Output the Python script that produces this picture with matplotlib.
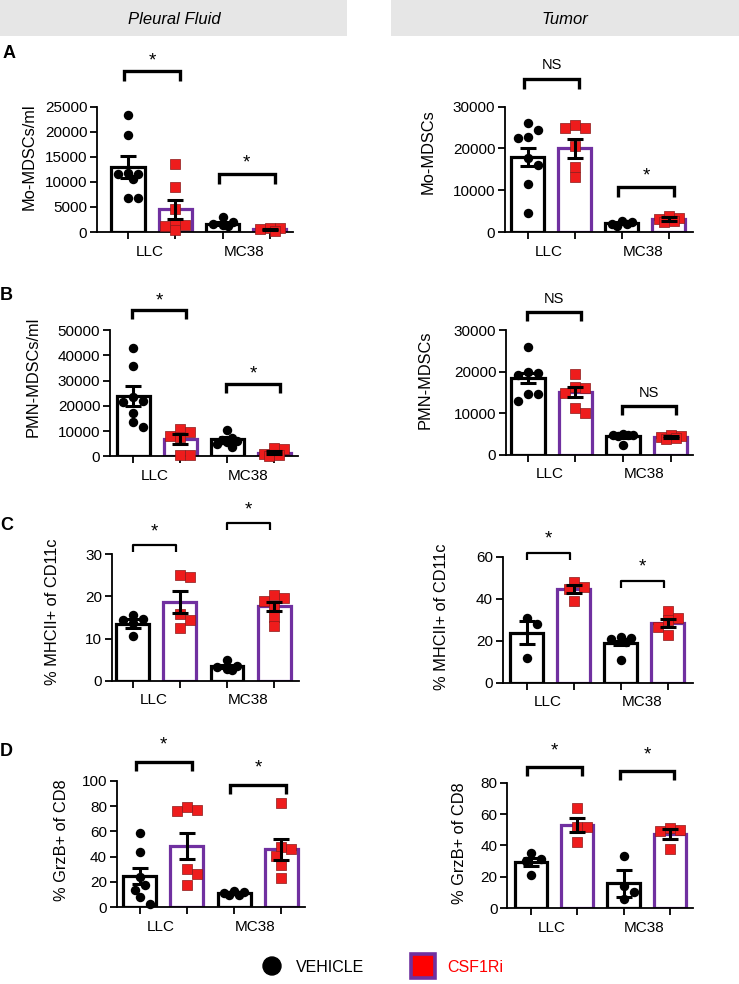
import numpy as np
import matplotlib
matplotlib.use('Agg')
import matplotlib.pyplot as plt
from matplotlib.patches import Rectangle, Circle

plt.rcParams['font.family'] = ['Liberation Sans', 'DejaVu Sans']

# ---------------- data ----------------
groups = ['LLC', 'MC38']
treatments = ['VEHICLE', 'CSF1Ri']
headers = ['Pleural Fluid', 'Tumor']
panel_letters = ['A', 'B', 'C', 'D']

# order inside each panel: LLC-vehicle, LLC-CSF1Ri, MC38-vehicle, MC38-CSF1Ri
a_pf_mean = [13000, 4500, 1650, 530]
a_pf_sem = [2200, 1900, 300, 150]
a_pf_pts = [[23400, 19400, 11700, 11500, 11500, 10500, 6700, 6700],
            [13600, 9000, 4600, 1800, 1400, 1200, 300],
            [2900, 1900, 1500, 1300, 1200],
            [800, 700, 500, 200]]
a_pf_br = [(32100, '*'), (11600, '*')]

a_tu_mean = [18000, 20000, 2200, 3100]
a_tu_sem = [2200, 2200, 250, 400]
a_tu_pts = [[26000, 24400, 22700, 22400, 17600, 16000, 11600, 4500],
            [25600, 25000, 25000, 20700, 15500, 13200],
            [2600, 2300, 2000, 1800, 1500],
            [3800, 3400, 3100, 2700, 2500]]
a_tu_br = [(36600, 'NS'), (10800, '*')]

b_pf_mean = [24000, 6900, 6700, 1450]
b_pf_sem = [3900, 2000, 800, 500]
b_pf_pts = [[42900, 35800, 23500, 22000, 21300, 17300, 13700, 11500],
            [10700, 9800, 8000, 7500, 700, 500],
            [10400, 7200, 6500, 6200, 5800, 4800, 3500],
            [3100, 2900, 1000, 600, 300]]
b_pf_br = [(57800, '*'), (28700, '*')]

b_tu_mean = [18400, 15100, 4550, 4400]
b_tu_sem = [1200, 1150, 350, 250]
b_tu_pts = [[26000, 20000, 19800, 19200, 14600, 14600, 13000],
            [19400, 16400, 16200, 15000, 11400, 10200],
            [5000, 4900, 4800, 4700, 4600, 2400],
            [4800, 4600, 4400, 4000, 3800]]
b_tu_br = [(34400, 'NS'), (11800, 'NS')]

c_pf_mean = [13.5, 18.6, 3.4, 17.7]
c_pf_sem = [1.1, 2.65, 0.3, 1.05]
c_pf_pts = [[15.5, 14.6, 14.3, 13.8, 10.6],
            [25.0, 24.6, 15.8, 14.4, 12.5],
            [4.8, 3.5, 3.2, 2.8, 2.6],
            [20.3, 19.7, 19.0, 17.5, 15.1, 12.9]]
c_pf_br = [(32.1, '*'), (37.35, '*')]

c_tu_mean = [23.8, 44.5, 19.0, 28.6]
c_tu_sem = [5.5, 2.0, 0.9, 1.9]
c_tu_pts = [[30.7, 28.0, 12.0],
            [48.1, 45.7, 44.5, 38.9],
            [21.8, 21.2, 20.6, 19.5, 11.0],
            [34.3, 30.9, 29.8, 26.7, 22.9]]
c_tu_br = [(61.9, '*'), (48.6, '*')]

d_pf_mean = [24.5, 48.7, 11.2, 45.8]
d_pf_sem = [6.3, 10.3, 0.8, 8.4]
d_pf_pts = [[59, 44, 24, 18, 14, 8, 3],
            [79, 77, 76, 30, 26, 18],
            [13, 12, 11, 10, 10],
            [82.7, 47.4, 45.8, 40.6, 33.4, 22.9]]
d_pf_br = [(115.1, '*'), (96.7, '*')]

d_tu_mean = [29.5, 53.0, 15.7, 47.2]
d_tu_sem = [2.5, 4.7, 8.6, 3.2]
d_tu_pts = [[35, 31, 30, 21],
            [64, 51.9, 51.9, 42.3],
            [33.4, 14, 10, 5.5],
            [50.9, 50, 49.3, 37.5]]
d_tu_br = [(89.8, '*'), (87.4, '*')]

# ---------------- style ----------------
W, H = 739, 984
PURPLE = '#7030A0'
RED = '#EE1C1C'
FS = 11

fig = plt.figure(figsize=(W / 100, H / 100), dpi=100)

# overlay in pixel coordinates for headers / legend / letters
ov = fig.add_axes([0, 0, 1, 1])
ov.set_xlim(0, W)
ov.set_ylim(H, 0)
ov.axis('off')
ov.patch.set_visible(False)

ov.add_patch(Rectangle((0, 0), 347, 36, facecolor='#E6E6E6', edgecolor='none'))
ov.add_patch(Rectangle((391, 0), 348, 36, facecolor='#E6E6E6', edgecolor='none'))
ov.text(174, 19, headers[0], ha='center', va='center', fontsize=12, style='italic')
ov.text(565, 19, headers[1], ha='center', va='center', fontsize=12, style='italic')

for letter, (lx, ly) in zip(panel_letters, [(3, 54), (0, 296), (0, 525), (0, 752)]):
    ov.text(lx, ly, letter, ha='left', va='center', fontsize=13, fontweight='bold')

# legend
ov.add_patch(Circle((272, 966), 9, facecolor='black', edgecolor='black'))
ov.text(296, 967, treatments[0], ha='left', va='center', fontsize=11.5)
ov.add_patch(Rectangle((410.5, 953.5), 24, 24, facecolor='#FF0000', edgecolor=PURPLE, lw=2.6))
ov.text(447, 967, treatments[1], ha='left', va='center', fontsize=11.5, color='#FF0000')

row_style = {
    'A': dict(dl=-0.08, dr=1.1, lw=2.4, leg=10, toff=6),
    'B': dict(dl=-0.02, dr=1.12, lw=2.4, leg=9, toff=5),
    'C': dict(dl=0.0, dr=0.92, lw=1.6, leg=7, toff=9),
    'D': dict(dl=-0.08, dr=1.1, lw=2.4, leg=9, toff=12),
}

panels = [
    dict(m=a_pf_mean, s=a_pf_sem, p=a_pf_pts, br=a_pf_br, box=(97, 293, 232, 106.7), xlim=(-0.655, 3.49),
         ymax=25000, ystep=5000, ylabel='Mo-MDSCs/ml', lab=(29, 157), row='A'),
    dict(m=a_tu_mean, s=a_tu_sem, p=a_tu_pts, br=a_tu_br, box=(505, 693, 232, 106.7), xlim=(-0.48, 3.51),
         ymax=30000, ystep=10000, ylabel='Mo-MDSCs', lab=(428, 152), row='A'),
    dict(m=b_pf_mean, s=b_pf_sem, p=b_pf_pts, br=b_pf_br, box=(110, 298, 456.3, 330), xlim=(-0.49, 3.5),
         ymax=50000, ystep=10000, ylabel='PMN-MDSCs/ml', lab=(33, 377), row='B'),
    dict(m=b_tu_mean, s=b_tu_sem, p=b_tu_pts, br=b_tu_br, box=(506, 693, 455, 330), xlim=(-0.46, 3.47),
         ymax=30000, ystep=10000, ylabel='PMN-MDSCs', lab=(425, 380), row='B'),
    dict(m=c_pf_mean, s=c_pf_sem, p=c_pf_pts, br=c_pf_br, box=(111.7, 299, 680.7, 554.3), xlim=(-0.45, 3.53),
         ymax=30, ystep=10, ylabel='% MHCII+ of CD11c', lab=(53, 612), row='C'),
    dict(m=c_tu_mean, s=c_tu_sem, p=c_tu_pts, br=c_tu_br, box=(502.7, 692.7, 682.7, 556.7), xlim=(-0.51, 3.53),
         ymax=60, ystep=20, ylabel='% MHCII+ of CD11c', lab=(442, 617), row='C'),
    dict(m=d_pf_mean, s=d_pf_sem, p=d_pf_pts, br=d_pf_br, box=(116.7, 305, 907.3, 780.7), xlim=(-0.485, 3.5),
         ymax=100, ystep=20, ylabel='% GrzB+ of CD8', lab=(62, 840), row='D'),
    dict(m=d_tu_mean, s=d_tu_sem, p=d_tu_pts, br=d_tu_br, box=(507.3, 693, 908, 782.7), xlim=(-0.51, 3.5),
         ymax=80, ystep=20, ylabel='% GrzB+ of CD8', lab=(459, 843), row='D'),
]


def swarm_offsets(vals, sx, sy, d, maxoff=0.3):
    maxpx = maxoff * sx
    cands = [0.0]
    for k in range(1, 10):
        for sgn in (1, -1):
            c = sgn * k * d * 0.5
            if abs(c) <= maxpx:
                cands.append(c)
    placed = []
    offs = []
    for v in vals:
        y = v * sy
        chosen, best, bestd = None, 0.0, -1.0
        for c in cands:
            md = min([np.hypot(c - px, y - py) for px, py in placed] + [1e9])
            if md >= 0.9 * d:
                chosen = c
                break
            if md > bestd:
                best, bestd = c, md
        if chosen is None:
            chosen = best
        placed.append((chosen, y))
        offs.append(chosen / sx)
    return offs


for P in panels:
    l, r, y0, yt = P['box']
    ax = fig.add_axes([l / W, 1 - y0 / H, (r - l) / W, (y0 - yt) / H])
    ax.set_xlim(*P['xlim'])
    ax.set_ylim(0, P['ymax'])
    for sp in ['top', 'right']:
        ax.spines[sp].set_visible(False)
    for sp in ['left', 'bottom']:
        ax.spines[sp].set_linewidth(1.3)
    ticks = np.arange(0, P['ymax'] + P['ystep'] / 2, P['ystep'])
    ax.set_yticks(ticks)
    ax.set_yticklabels([f"{int(v)}" for v in ticks])
    xs = np.arange(4)
    ax.set_xticks(xs)
    ax.set_xticklabels([''] * 4)
    ax.set_xticks([0.45, 2.45], minor=True)
    ax.set_xticklabels(groups, minor=True)
    ax.tick_params(axis='both', which='major', direction='out', length=5, width=1.3, labelsize=FS, pad=2)
    ax.tick_params(axis='x', which='minor', length=0, labelsize=FS, pad=9)

    sx = (r - l) / (P['xlim'][1] - P['xlim'][0])
    sy = (y0 - yt) / P['ymax']

    edgecols = ['black', PURPLE, 'black', PURPLE]
    ax.bar(xs, P['m'], width=0.7, facecolor='white', edgecolor=edgecols, linewidth=2.3, zorder=2)

    for i in range(4):
        offs = swarm_offsets(P['p'][i], sx, sy, 10.0)
        if i % 2 == 0:
            ax.scatter(i + np.array(offs), P['p'][i], s=6.8 ** 2, marker='o', color='black',
                       zorder=3, clip_on=False, linewidths=0)
        else:
            ax.scatter(i + np.array(offs), P['p'][i], s=7.0 ** 2, marker='s', facecolor=RED,
                       edgecolor='#8B1A1A', linewidths=0.5, zorder=3, clip_on=False)

    ax.errorbar(xs, P['m'], yerr=P['s'], fmt='none', ecolor='black', elinewidth=2.2,
                capsize=5.5, capthick=2.2, zorder=4)

    st = row_style[P['row']]
    leg = st['leg'] / sy
    for j, (by, lab) in enumerate(P['br']):
        x1 = 2 * j + st['dl']
        x2 = 2 * j + st['dr']
        ax.plot([x1, x1, x2, x2], [by - leg, by, by, by - leg], color='black', lw=st['lw'],
                solid_joinstyle='round' if P['row'] == 'C' else 'miter',
                solid_capstyle='butt', clip_on=False, zorder=5)
        off = st['toff'] + (4 if lab == 'NS' else 0)
        ax.annotate(lab, xy=((x1 + x2) / 2, by), xytext=(0, off), textcoords='offset pixels',
                    ha='center', va='baseline', fontsize=13.5 if lab == '*' else 10.5,
                    annotation_clip=False)

    lx, ly = P['lab']
    ov.text(lx, ly, P['ylabel'], rotation=90, ha='center', va='center', fontsize=11.8)

fig.savefig('out.png', dpi=100)
